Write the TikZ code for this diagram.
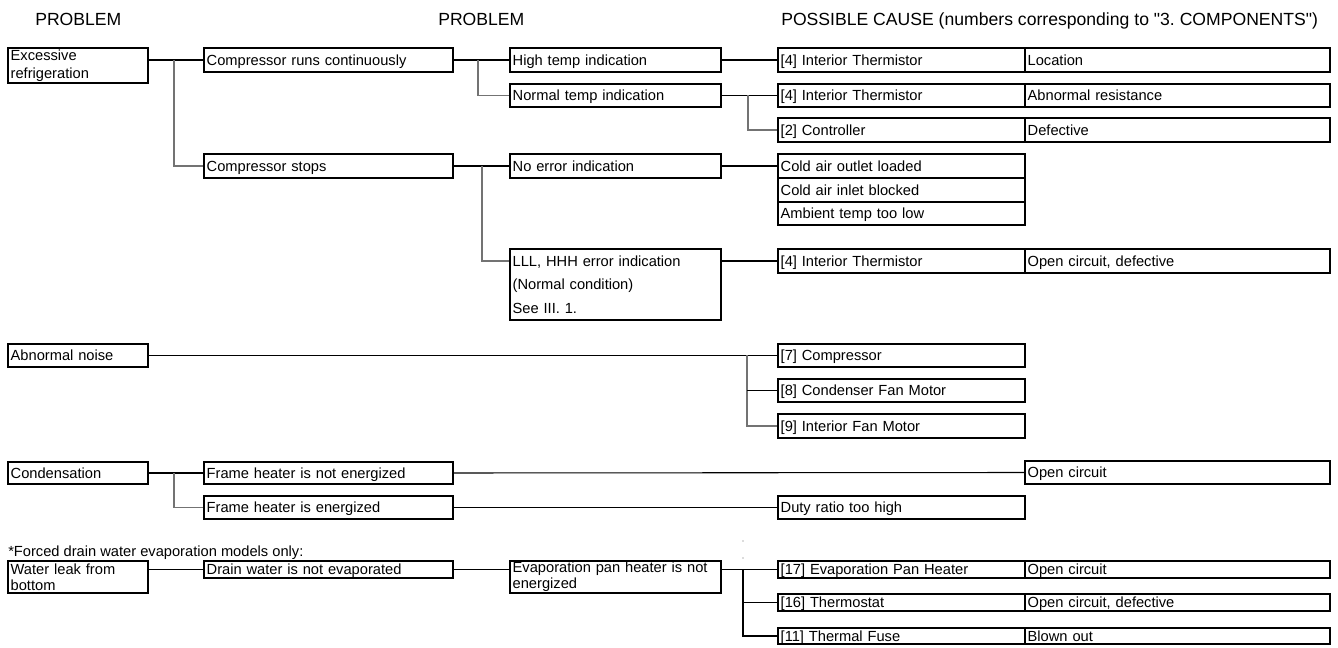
\documentclass[tikz,border=0pt]{standalone}
\usepackage{fontspec}
\setmainfont{Liberation Sans}[Ligatures=TeXOff]
\usetikzlibrary{calc}
\frenchspacing

\newcommand\drawbox[7][]{%
  \pgfmathsetmacro\dbw{(#5-#3)*0.75}%
  \pgfmathsetmacro\dbh{(#6-#4)*0.75}%
  \pgfmathsetmacro\dbt{(#5-#3)*0.75-4}%
  \node[pbox, minimum width=\dbw pt, minimum height=\dbh pt, text width=\dbt pt, #1] (#2) at (#3,#4) {#7};}

\begin{document}
\begin{tikzpicture}[x=0.75pt,y=-0.75pt,
  pbox/.style={draw, line width=1.5pt, anchor=north west, inner xsep=2pt, inner ysep=0pt, align=left, font=\fontsize{11}{13.2}\selectfont, text height=7.9pt, text depth=0pt},
  multi/.style={text height={}, text depth={}},
  link/.style={line width=0.8pt, black},
  elbow/.style={line width=0.8pt, black!55},
  hdr/.style={anchor=base west, inner sep=0pt, font=\fontsize{13.2}{15}\selectfont},
  note/.style={anchor=base west, inner sep=0pt, font=\fontsize{11}{13.2}\selectfont}]
\useasboundingbox (0,0) rectangle (1338,648);

% headers
\node[hdr] (h1) at (35,26) {PROBLEM};
\node[hdr] (h2) at (438,26) {PROBLEM};
\node[hdr] (h3) at (781,26) {POSSIBLE CAUSE (numbers corresponding to "3. COMPONENTS")};

% Excessive refrigeration
\drawbox[multi, font=\fontsize{11}{13.5}\selectfont]{exc}{7}{47}{147}{82}{Excessive\\refrigeration}
\drawbox{cr}{203}{47}{452}{71}{Compressor runs continuously}
\drawbox{cs}{203}{153}{452}{177}{Compressor stops}
\drawbox{ht}{509}{47}{720}{71}{High temp indication}
\drawbox{nt}{509}{83}{720}{106}{Normal temp indication}
\drawbox{ne}{509}{153}{720}{177}{No error indication}
\drawbox[multi, font=\fontsize{11}{17.6}\selectfont]{lll}{509}{248}{720}{319}{LLL, HHH error indication\\(Normal condition)\\See III. 1.}
\drawbox{t1a}{777}{47}{1024}{71}{[4] Interior Thermistor}
\drawbox{t1b}{1024}{47}{1329}{71}{Location}
\drawbox{t2a}{777}{83}{1024}{106}{[4] Interior Thermistor}
\drawbox{t2b}{1024}{83}{1329}{106}{Abnormal resistance}
\drawbox{c2a}{777}{117}{1024}{141}{[2] Controller}
\drawbox{c2b}{1024}{117}{1329}{141}{Defective}
\drawbox{ca1}{777}{153}{1024}{177}{Cold air outlet loaded}
\drawbox{ca2}{777}{177}{1024}{201}{Cold air inlet blocked}
\drawbox{ca3}{777}{201}{1024}{224}{Ambient temp too low}
\drawbox{t3a}{777}{248}{1024}{272}{[4] Interior Thermistor}
\drawbox{t3b}{1024}{248}{1329}{272}{Open circuit, defective}

% Abnormal noise
\drawbox{an}{7}{343}{147}{366}{Abnormal noise}
\drawbox{m7}{777}{343}{1024}{366}{[7] Compressor}
\drawbox{m8}{777}{378}{1024}{401}{[8] Condenser Fan Motor}
\drawbox{m9}{777}{413}{1024}{437}{[9] Interior Fan Motor}

% Condensation
\drawbox{cond}{7}{461}{147}{483}{Condensation}
\drawbox{fh1}{203}{461}{452}{483}{Frame heater is not energized}
\drawbox{fh2}{203}{495}{452}{518}{Frame heater is energized}
\drawbox{oc}{1024}{460}{1329}{483}{Open circuit}
\drawbox{dr}{777}{495}{1024}{518}{Duty ratio too high}

% Water leak
\node[note] (nt1) at (8,556) {*Forced drain water evaporation models only:};
\drawbox[multi, font=\fontsize{11}{12}\selectfont]{wl}{7}{560}{147}{592}{Water leak from\\bottom}
\drawbox{dw}{203}{560}{452}{577}{Drain water is not evaporated}
\drawbox[multi, font=\fontsize{11}{12}\selectfont]{ep}{509}{560}{720}{592}{Evaporation pan heater is not\\energized}
\drawbox{e17a}{777}{560}{1024}{577}{[17] Evaporation Pan Heater}
\drawbox{e17b}{1024}{560}{1329}{577}{Open circuit}
\drawbox{e16a}{777}{593}{1024}{610}{[16] Thermostat}
\drawbox{e16b}{1024}{593}{1329}{610}{Open circuit, defective}
\drawbox{e11a}{777}{627}{1024}{643}{[11] Thermal Fuse}
\drawbox{e11b}{1024}{627}{1329}{643}{Blown out}

% junction points
\coordinate (j1) at (174,0 |- cr.west);
\coordinate (j2) at (478,0 |- ht.west);
\coordinate (j3) at (748,0 |- nt.east);
\coordinate (j4) at (482,0 |- ne.west);
\coordinate (j5) at (747,0 |- m7.west);
\coordinate (j6) at (174,0 |- fh1.west);
\coordinate (j7) at (743,0 |- e17a.west);

% connectors
\draw[link] (exc.east |- cr.west) -- (cr.west);
\draw[elbow] (j1) |- (cs.west);
\draw[link] (cr.east) -- (ht.west);
\draw[elbow] (j2) |- (nt.west);
\draw[link] (ht.east) -- (t1a.west);
\draw[link] (nt.east) -- (t2a.west);
\draw[elbow] (j3) |- (c2a.west);
\draw[link] (cs.east) -- (ne.west);
\draw[elbow] (j4) |- (lll.west |- t3a.west);
\draw[link] (ne.east) -- (ca1.west);
\draw[link] (lll.east |- t3a.west) -- (t3a.west);

\draw[link] (an.east) -- (m7.west);
\draw[elbow] (j5) |- (m9.west);
\draw[link] (j5 |- m8.west) -- (m8.west);

\draw[link] (cond.east) -- (fh1.west);
\draw[elbow] (j6) |- (fh2.west);
\draw[link] (fh1.east) -- (oc.west);
\draw[link] (fh2.east) -- (dr.west);

\draw[link] (wl.east |- dw.west) -- (dw.west);
\draw[link] (dw.east) -- (dw.east -| ep.west);
\draw[link] (ep.east |- e17a.west) -- (e17a.west);
\draw[link] (j7) |- (e11a.west);
\draw[link] (j7 |- e16a.west) -- (e16a.west);

% specks
\fill[black!60] (743,541) circle (0.6);
\fill[black!60] (743,558) circle (0.6);
\end{tikzpicture}
\end{document}
